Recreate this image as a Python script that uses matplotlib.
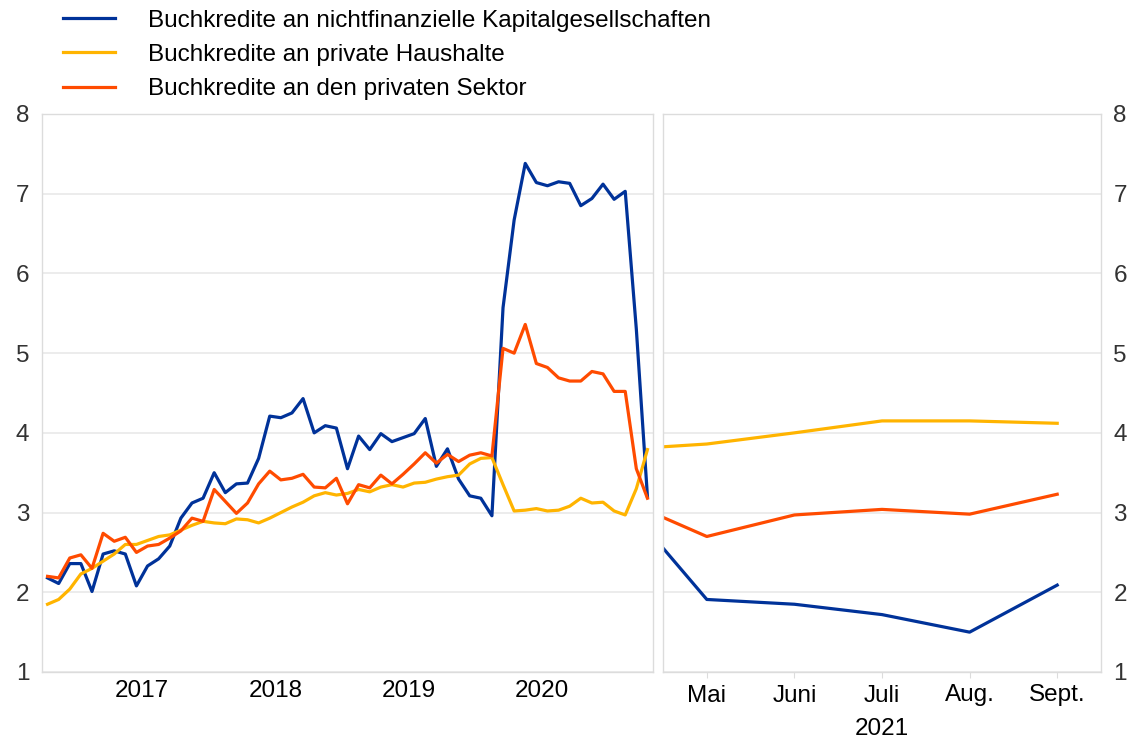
import matplotlib.pyplot as plt
from matplotlib.lines import Line2D

plt.rcParams['font.family'] = ['Liberation Sans', 'DejaVu Sans']

# Monatswerte Okt. 2016 bis Apr. 2021 (linkes Feld)
nfc_lang = [2.18, 2.11, 2.36, 2.36, 2.01, 2.48, 2.52, 2.48, 2.08, 2.33, 2.42, 2.58, 2.93, 3.12,
            3.18, 3.50, 3.25, 3.36, 3.37, 3.68, 4.21, 4.19, 4.25, 4.43, 4.00, 4.09, 4.06, 3.55,
            3.96, 3.79, 3.99, 3.89, 3.94, 3.99, 4.18, 3.58, 3.80, 3.42, 3.21, 3.18, 2.96,
            5.57, 6.67, 7.38, 7.14, 7.10, 7.15, 7.13, 6.85, 6.94, 7.12, 6.93, 7.03, 5.30, 3.20]
hh_lang = [1.85, 1.91, 2.04, 2.23, 2.30, 2.39, 2.48, 2.60, 2.60, 2.65, 2.70, 2.72, 2.78, 2.84,
           2.89, 2.87, 2.86, 2.92, 2.91, 2.87, 2.93, 3.00, 3.07, 3.13, 3.21, 3.25, 3.22, 3.24,
           3.29, 3.26, 3.32, 3.35, 3.32, 3.37, 3.38, 3.42, 3.45, 3.47, 3.61, 3.68, 3.69,
           3.35, 3.02, 3.03, 3.05, 3.02, 3.03, 3.08, 3.18, 3.12, 3.13, 3.02, 2.97, 3.30, 3.79]
ps_lang = [2.20, 2.18, 2.43, 2.47, 2.30, 2.74, 2.64, 2.69, 2.50, 2.58, 2.60, 2.68, 2.77, 2.93,
           2.89, 3.29, 3.14, 2.99, 3.12, 3.36, 3.52, 3.41, 3.43, 3.48, 3.32, 3.31, 3.43, 3.11,
           3.35, 3.31, 3.47, 3.36, 3.48, 3.61, 3.75, 3.62, 3.73, 3.64, 3.72, 3.75, 3.71,
           5.06, 5.00, 5.36, 4.87, 4.82, 4.69, 4.65, 4.65, 4.77, 4.74, 4.52, 4.52, 3.55, 3.18]
jahre = ['2017', '2018', '2019', '2020']
jahr_pos = [8.5, 20.5, 32.5, 44.5]

# Apr. bis Sept. 2021 (rechtes Feld)
monate = ['Apr.', 'Mai', 'Juni', 'Juli', 'Aug.', 'Sept.']
nfc_kurz = [3.20, 1.91, 1.85, 1.72, 1.50, 2.09]
hh_kurz = [3.79, 3.86, 4.00, 4.15, 4.15, 4.12]
ps_kurz = [3.18, 2.70, 2.97, 3.04, 2.98, 3.23]

labels = ['Buchkredite an nichtfinanzielle Kapitalgesellschaften',
          'Buchkredite an private Haushalte',
          'Buchkredite an den privaten Sektor']
farben = ['#003299', '#FFB400', '#FF4B00']

fs = 17.5
W, H = 1134, 742
fig = plt.figure(figsize=(W / 100, H / 100), dpi=100)
ax1 = fig.add_axes([42 / W, (H - 672) / H, (653 - 42) / W, (672 - 114) / H])
ax2 = fig.add_axes([663 / W, (H - 672) / H, (1101 - 663) / W, (672 - 114) / H])

lw = 2.3
x1 = range(len(nfc_lang))
ax1.plot(x1, nfc_lang, color=farben[0], lw=lw)
ax1.plot(x1, hh_lang, color=farben[1], lw=lw)
ax1.plot(x1, ps_lang, color=farben[2], lw=lw)

x2 = range(len(monate))
ax2.plot(x2, nfc_kurz, color=farben[0], lw=lw)
ax2.plot(x2, hh_kurz, color=farben[1], lw=lw)
ax2.plot(x2, ps_kurz, color=farben[2], lw=lw)

for ax in (ax1, ax2):
    ax.set_ylim(1, 8)
    ax.set_yticks(range(1, 9))
    ax.grid(axis='y', color='#ebebeb', lw=1.3)
    ax.set_axisbelow(True)
    for s in ax.spines.values():
        s.set_color('#dcdcdc')
        s.set_linewidth(1)

ax1.set_xlim(-0.5, len(nfc_lang) - 0.5)
ax1.set_xticks(jahr_pos)
ax1.set_xticklabels(jahre)
ax1.tick_params(axis='x', length=0, pad=6, labelsize=fs)
ax1.tick_params(axis='y', length=0, pad=9, labelsize=fs, labelcolor='#333333')

ax2.set_xlim(0.5, len(monate) - 0.5)
ax2.set_xticks(list(x2)[1:])
ax2.set_xticklabels(monate[1:])
ax2.tick_params(axis='x', length=4, color='#dcdcdc', pad=5, labelsize=fs)
ax2.tick_params(axis='y', length=0, pad=9, labelsize=fs, labelcolor='#333333',
                left=False, labelleft=False, right=True, labelright=True)
ax2.set_xlabel('2021', fontsize=fs, labelpad=8)

handles = [Line2D([], [], color=c, lw=lw) for c in farben]
fig.legend(handles, labels, loc='upper left', bbox_to_anchor=(53 / W, 1.0),
           frameon=False, fontsize=fs, handlelength=2.15, handletextpad=1.35,
           labelspacing=0.5, borderaxespad=0.0)

fig.savefig('out.png', dpi=100)
